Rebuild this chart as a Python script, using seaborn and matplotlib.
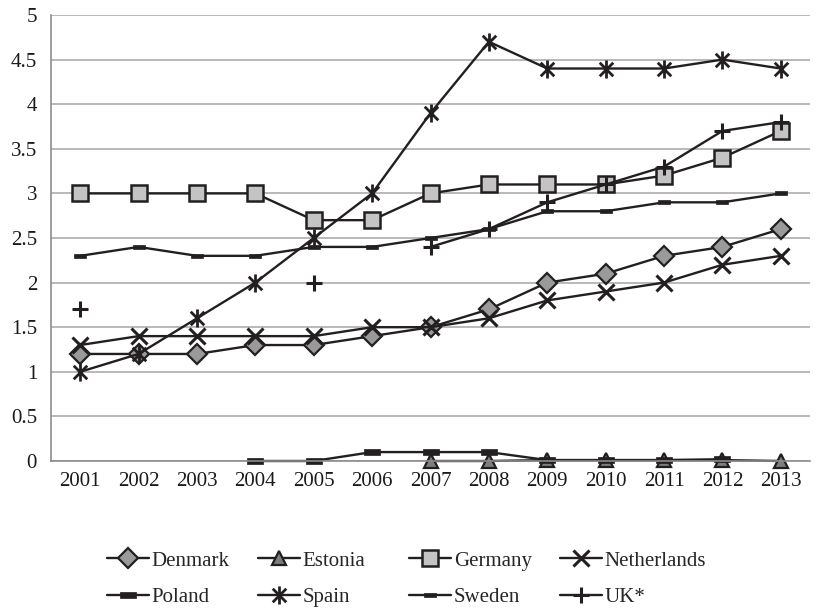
import numpy as np
import pandas as pd
import matplotlib
matplotlib.use("Agg")
import matplotlib.pyplot as plt
from matplotlib.lines import Line2D
from matplotlib.path import Path
import seaborn as sns

years = ["2001", "2002", "2003", "2004", "2005", "2006", "2007",
         "2008", "2009", "2010", "2011", "2012", "2013"]
nan = np.nan

denmark = [1.2, 1.2, 1.2, 1.3, 1.3, 1.4, 1.5, 1.7, 2.0, 2.1, 2.3, 2.4, 2.6]
estonia = [nan, nan, nan, nan, nan, nan, 0.0, 0.0, 0.01, 0.01, 0.01, 0.01, 0.0]
germany = [3.0, 3.0, 3.0, 3.0, 2.7, 2.7, 3.0, 3.1, 3.1, 3.1, 3.2, 3.4, 3.7]
netherlands = [1.3, 1.4, 1.4, 1.4, 1.4, 1.5, 1.5, 1.6, 1.8, 1.9, 2.0, 2.2, 2.3]
poland = [nan, nan, nan, 0.0, 0.0, 0.1, 0.1, 0.1, 0.01, 0.01, 0.01, 0.02, nan]
spain = [1.0, 1.2, 1.6, 2.0, 2.5, 3.0, 3.9, 4.7, 4.4, 4.4, 4.4, 4.5, 4.4]
sweden = [2.3, 2.4, 2.3, 2.3, 2.4, 2.4, 2.5, 2.6, 2.8, 2.8, 2.9, 2.9, 3.0]
uk = [1.7, nan, nan, nan, 2.0, nan, 2.4, 2.6, 2.9, 3.1, 3.3, 3.7, 3.8]

series_names = ["Denmark", "Estonia", "Germany", "Netherlands",
                "Poland", "Spain", "Sweden", "UK*"]
series_values = [denmark, estonia, germany, netherlands,
                 poland, spain, sweden, uk]

# wide flat bar markers for Poland / Sweden
bar_marker = Path([(-1, -0.38), (1, -0.38), (1, 0.38), (-1, 0.38), (-1, -0.38)],
                  [Path.MOVETO, Path.LINETO, Path.LINETO, Path.LINETO, Path.CLOSEPOLY])
# asterisk: an X crossed by a vertical stroke
star_marker = Path([(-0.75, -0.75), (0.75, 0.75), (-0.75, 0.75), (0.75, -0.75),
                    (0, -1), (0, 1)],
                   [Path.MOVETO, Path.LINETO, Path.MOVETO, Path.LINETO,
                    Path.MOVETO, Path.LINETO])

ink = "#231f20"
styles = {
    "Denmark": dict(marker="D", markersize=10, markerfacecolor="#9a9a9a",
                    markeredgecolor=ink, markeredgewidth=1.6),
    "Estonia": dict(marker="^", markersize=10.5, markerfacecolor="#7d7d7d",
                    markeredgecolor=ink, markeredgewidth=1.6),
    "Germany": dict(marker="s", markersize=12, markerfacecolor="#c4c4c4",
                    markeredgecolor=ink, markeredgewidth=1.8),
    "Netherlands": dict(marker="x", markersize=11, markeredgecolor=ink,
                        markeredgewidth=2.2),
    "Poland": dict(marker=bar_marker, markersize=12, markerfacecolor=ink,
                   markeredgecolor=ink, markeredgewidth=0.5),
    "Spain": dict(marker=star_marker, markersize=13, markerfacecolor="none",
                  markeredgecolor=ink, markeredgewidth=2.0),
    "Sweden": dict(marker=bar_marker, markersize=8, markerfacecolor=ink,
                   markeredgecolor=ink, markeredgewidth=0.5),
    "UK*": dict(marker="+", markersize=12, markeredgecolor=ink,
                markeredgewidth=2.2),
}

sns.set_theme(style="white")
plt.rcParams["font.family"] = ["Liberation Serif", "DejaVu Serif"]

W, H = 819, 608
fig = plt.figure(figsize=(W / 100, H / 100), dpi=100)
ax = fig.add_axes([51 / W, 147 / H, 759 / W, 446 / H])

x_all = np.arange(len(years))
for name, vals in zip(series_names, series_values):
    vals = np.asarray(vals, dtype=float)
    valid = ~np.isnan(vals)
    # split into contiguous runs so gaps are not bridged
    runs, start = [], None
    for i, ok in enumerate(valid):
        if ok and start is None:
            start = i
        if not ok and start is not None:
            runs.append((start, i))
            start = None
    if start is not None:
        runs.append((start, len(vals)))
    for a, b in runs:
        seg = pd.DataFrame({"x": x_all[a:b], "y": vals[a:b]})
        sns.lineplot(data=seg, x="x", y="y", ax=ax, color=ink, linewidth=1.7,
                     estimator=None, sort=False, legend=False, clip_on=False,
                     **styles[name])

ax.set_xlim(-0.5, 12.5)
ax.set_ylim(0, 5)
ax.set_yticks(np.arange(0, 5.01, 0.5))
ax.set_yticklabels(["0", "0.5", "1", "1.5", "2", "2.5", "3", "3.5", "4", "4.5", "5"])
ax.set_xticks(x_all)
ax.set_xticklabels(years)
ax.set_xlabel("")
ax.set_ylabel("")
ax.yaxis.grid(True, color="#a6a6a6", linewidth=1.1)
ax.xaxis.grid(False)
ax.set_axisbelow(True)
for side in ["top", "right"]:
    ax.spines[side].set_visible(False)
for side in ["left", "bottom"]:
    ax.spines[side].set_visible(True)
    ax.spines[side].set_color("#8c8c8c")
    ax.spines[side].set_linewidth(1.2)
ax.tick_params(axis="both", which="both", length=0, labelsize=15,
               labelcolor="#1a1a1a")
ax.tick_params(axis="y", pad=10)
ax.tick_params(axis="x", pad=8)

# legend: four equal-width columns, two rows
handles = {n: Line2D([], [], color=ink, linewidth=1.7, label=n, **styles[n])
           for n in series_names}
legend_columns = [["Denmark", "Poland"], ["Estonia", "Spain"],
                  ["Germany", "Sweden"], ["Netherlands", "UK*"]]
col_left = 107
col_pitch = 151
for k, names in enumerate(legend_columns):
    leg = fig.legend(handles=[handles[n] for n in names], loc="center left",
                     bbox_to_anchor=((col_left + k * col_pitch) / W, 29 / H),
                     frameon=False, fontsize=15, handlelength=2.0,
                     handletextpad=0.15, labelspacing=0.8,
                     borderpad=0, borderaxespad=0)

fig.savefig("out.png", dpi=100)
